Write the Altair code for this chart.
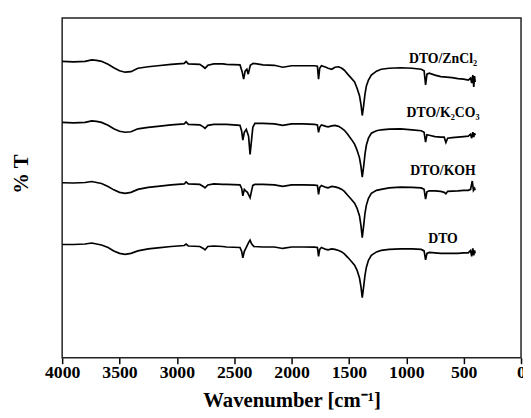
import altair as alt
import pandas as pd

# ---- data (arbitrary %T units, traces offset for clarity) ----
wn_zncl2 = [4000, 3900, 3800, 3742, 3700, 3657, 3600, 3550, 3500, 3451, 3400, 3340, 3250, 3167, 3050,
            2936, 2920, 2900, 2800, 2770, 2755, 2730, 2678, 2600, 2567, 2450, 2430, 2418, 2405, 2390,
            2378, 2360, 2335, 2250, 2150, 2077, 2000, 1900, 1800, 1775, 1765, 1755, 1740, 1700, 1682,
            1650, 1622, 1590, 1562, 1540, 1511, 1480, 1451, 1430, 1408, 1395, 1384, 1372, 1360, 1348,
            1330, 1305, 1260, 1219, 1150, 1050, 950, 870, 845, 832, 820, 800, 750, 700, 650, 600, 550,
            500, 460, 440, 430, 420, 412, 405, 400]
t_zncl2 = [301, 300.5, 301, 302.5, 302, 301, 298, 294.5, 291.5, 290, 290.5, 294, 295.5, 296.5, 298,
           299, 301, 298.5, 298, 295.5, 294, 297, 298.5, 298.5, 298, 297.5, 290, 283, 291, 293,
           288, 297, 299, 297.5, 297, 295, 296.5, 296.5, 296.5, 296, 283, 294, 296.5, 295, 294,
           293, 295, 295.5, 294, 292, 288, 284, 280, 274, 266, 257, 246, 256, 268, 276,
           282, 287, 291, 293, 294, 294.5, 294, 293, 291.5, 277, 288, 289, 287, 285.5, 285, 284.5, 283.5,
           283, 282, 284, 279, 287, 275, 286, 280]

wn_k2co3 = [4000, 3900, 3800, 3742, 3700, 3657, 3600, 3550, 3500, 3451, 3400, 3340, 3250, 3167, 3050,
            2936, 2920, 2900, 2800, 2770, 2755, 2730, 2678, 2600, 2567, 2450, 2435, 2425, 2412, 2395,
            2375, 2362, 2350, 2338, 2320, 2250, 2150, 2077, 2000, 1900, 1800, 1775, 1765, 1755, 1740,
            1700, 1682, 1650, 1622, 1590, 1562, 1540, 1511, 1480, 1451, 1430, 1408, 1395, 1384, 1372,
            1360, 1348, 1330, 1305, 1260, 1219, 1150, 1050, 950, 870, 845, 832, 820, 800, 750, 700,
            670, 655, 640, 600, 550, 500, 460, 440, 430, 420, 412, 405, 400]
t_k2co3 = [239, 238.5, 239, 240.5, 240, 239, 236, 232.5, 230, 229, 229.5, 232.5, 234, 235, 236.5,
           237.5, 239.5, 237, 236.5, 234.5, 233, 236, 237, 237, 237, 236, 230, 221, 229, 232,
           225, 206.5, 220, 234, 238, 238, 237.5, 236, 237.5, 237.5, 237, 236.5, 229, 234, 236.5,
           235, 234.5, 235.5, 236, 235, 233, 231, 227, 222, 217, 211, 203, 194, 183.5, 194,
           207, 216, 223, 228, 230.5, 231.5, 232.2, 232.5, 231.5, 230.5, 229, 219, 226.5, 226, 224.5, 224,
           224, 218.5, 223, 223.5, 224, 224.5, 225, 227, 223, 229, 224, 228, 226]

wn_koh = [4000, 3900, 3800, 3742, 3700, 3657, 3600, 3550, 3500, 3451, 3400, 3340, 3250, 3167, 3050,
          2936, 2920, 2900, 2800, 2770, 2755, 2730, 2678, 2600, 2567, 2450, 2435, 2425, 2412, 2400,
          2385, 2362, 2350, 2338, 2320, 2250, 2150, 2077, 2000, 1900, 1800, 1775, 1765, 1755, 1740,
          1700, 1682, 1650, 1622, 1590, 1562, 1540, 1511, 1480, 1451, 1430, 1408, 1395, 1384, 1372,
          1360, 1348, 1330, 1305, 1260, 1219, 1150, 1050, 950, 870, 845, 832, 820, 800, 750, 700,
          670, 655, 640, 600, 550, 500, 460, 440, 425, 415, 405, 400]
t_koh = [177.7, 177.5, 178, 179, 178, 177, 174, 170.5, 168, 167, 168, 171, 173, 174, 175.5,
         176.5, 178.5, 176.5, 176, 174, 172.5, 175.5, 176.5, 176, 176, 175.5, 172, 164.5, 171, 169.5,
         168, 162.5, 169, 175, 176, 176, 175.5, 174, 175.5, 175.5, 175.3, 175, 166, 173, 175,
         173, 172.5, 174, 173.5, 172.5, 171, 169, 165, 161, 157, 152, 144, 134, 122, 134,
         147, 155, 162, 167, 170, 171, 172.5, 173.3, 173, 172.5, 171, 161, 168.5, 169.5, 169.5, 169,
         168, 166.5, 169, 169.3, 169.5, 170, 170, 171, 179.5, 170, 172, 170]

wn_dto = [4000, 3900, 3800, 3742, 3700, 3657, 3600, 3550, 3500, 3451, 3400, 3340, 3250, 3167, 3050,
          2936, 2920, 2900, 2800, 2770, 2755, 2730, 2678, 2600, 2567, 2450, 2435, 2425, 2412, 2395,
          2375, 2362, 2350, 2330, 2250, 2150, 2077, 2000, 1900, 1800, 1775, 1765, 1755, 1740, 1700,
          1682, 1650, 1622, 1590, 1562, 1540, 1511, 1480, 1451, 1430, 1408, 1395, 1384, 1372, 1360,
          1348, 1330, 1305, 1260, 1219, 1150, 1050, 950, 870, 845, 832, 820, 800, 750, 700, 650,
          600, 550, 500, 460, 440, 430, 420, 412, 405, 400]
t_dto = [115, 115, 115.5, 116.5, 115.5, 114.5, 112, 108.5, 106, 105, 106, 108.5, 110.5, 111.5, 113,
         114, 115.5, 113.5, 113, 111, 109.5, 113, 113.5, 113, 112.5, 112, 108, 101.5, 108, 112,
         117, 119.5, 116, 113, 112.5, 112.5, 111, 112.5, 112.5, 112.3, 112, 103, 110, 112, 110,
         109.5, 110.5, 110, 109, 107.5, 105.5, 102, 98, 94, 89, 81, 72, 61, 72, 84,
         92, 99, 104, 107.5, 109, 110, 110.5, 110.5, 110, 108.5, 99.5, 106, 107, 106.5, 106, 106,
         106, 106, 106.5, 106.5, 109, 103, 111, 104, 109, 106]

samples = ["DTO/ZnCl₂", "DTO/K₂CO₃", "DTO/KOH", "DTO"]
label_wn = [680, 680, 680, 680]
label_t = [303, 248.5, 189.5, 121]

x_ticks = list(range(0, 4001, 250))

# ---- build tables ----
frames = []
for name, wn, t in zip(samples, [wn_zncl2, wn_k2co3, wn_koh, wn_dto],
                       [t_zncl2, t_k2co3, t_koh, t_dto]):
    frames.append(pd.DataFrame({"wavenumber": wn, "T": t, "sample": name}))
spectra = pd.concat(frames, ignore_index=True)
labels = pd.DataFrame({"wavenumber": label_wn, "T": label_t, "sample": samples})

x_scale = alt.Scale(domain=[0, 4000], reverse=True, nice=False, zero=False)
y_scale = alt.Scale(domain=[0, 345], nice=False, zero=False)

x_axis = alt.Axis(
    title="Wavenumber [cm⁻¹]",
    values=x_ticks,
    format="d",
    labelExpr="datum.value % 500 === 0 ? datum.label : ''",
    tickSize={"condition": {"test": "datum.value % 500 === 0", "value": 6}, "value": 3},
    labelOverlap=False,
    labelFlush=False,
    labelPadding=0,
    titlePadding=9,
    domain=False,
    grid=False,
)
y_axis = alt.Axis(
    title="% T",
    labels=False,
    ticks=False,
    domain=False,
    grid=False,
    titleX=-41,
    titleY=158,
    titleBaseline="middle",
    titleAngle=270,
)

lines = alt.Chart(spectra).mark_line(color="black", strokeWidth=1.7).encode(
    x=alt.X("wavenumber:Q", scale=x_scale, axis=x_axis),
    y=alt.Y("T:Q", scale=y_scale, axis=y_axis),
    detail="sample:N",
)

texts = alt.Chart(labels).mark_text(
    font="Liberation Serif", fontWeight="bold", fontSize=14, color="black",
    align="center", baseline="middle",
).encode(
    x=alt.X("wavenumber:Q", scale=x_scale),
    y=alt.Y("T:Q", scale=y_scale),
    text="sample:N",
)

chart = alt.layer(lines, texts).properties(
    width=466,
    height=345,
    background="white",
    autosize=alt.AutoSizeParams(type="none"),
    padding={"left": 55, "top": 7, "right": 2, "bottom": 58},
).configure_view(
    stroke="#222222", strokeWidth=1.5,
).configure_axis(
    labelFont="Liberation Serif", labelFontWeight="bold", labelFontSize=18, labelColor="black",
    titleFont="Liberation Serif", titleFontWeight="bold", titleFontSize=21, titleColor="black",
    tickColor="black", tickWidth=1.5,
)

chart.save("out.html", embed_options={"renderer": "svg", "actions": False})
